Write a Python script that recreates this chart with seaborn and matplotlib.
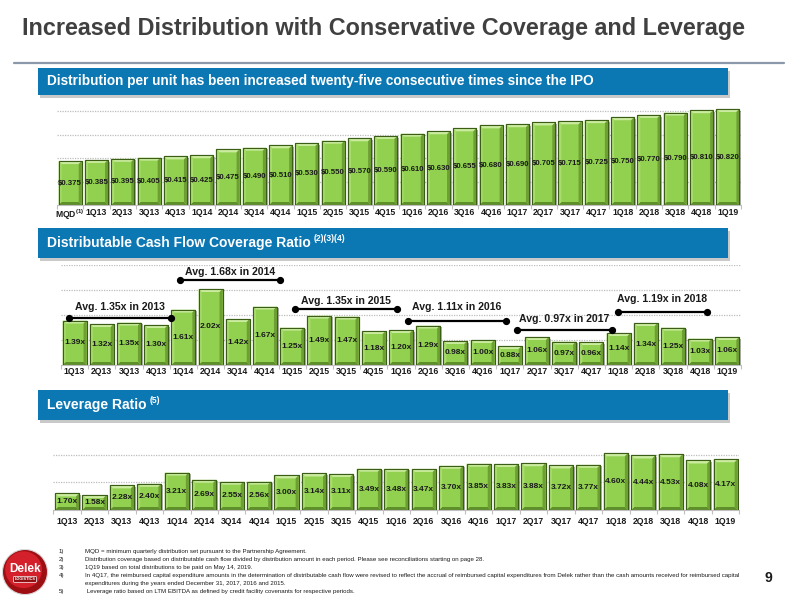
import numpy as np
import matplotlib
matplotlib.use("Agg")
import matplotlib.pyplot as plt
import matplotlib.patheffects as pe
from matplotlib.patches import Rectangle, Circle, Polygon
import seaborn as sns

# data
dist_labels = ["MQD$^{(1)}$", "1Q13", "2Q13", "3Q13", "4Q13", "1Q14", "2Q14", "3Q14", "4Q14",
               "1Q15", "2Q15", "3Q15", "4Q15", "1Q16", "2Q16", "3Q16", "4Q16",
               "1Q17", "2Q17", "3Q17", "4Q17", "1Q18", "2Q18", "3Q18", "4Q18", "1Q19"]
dist_values = [0.375, 0.385, 0.395, 0.405, 0.415, 0.425, 0.475, 0.490, 0.510, 0.530, 0.550,
               0.570, 0.590, 0.610, 0.630, 0.655, 0.680, 0.690, 0.705, 0.715, 0.725, 0.750,
               0.770, 0.790, 0.810, 0.820]

quarters = ["1Q13", "2Q13", "3Q13", "4Q13", "1Q14", "2Q14", "3Q14", "4Q14",
            "1Q15", "2Q15", "3Q15", "4Q15", "1Q16", "2Q16", "3Q16", "4Q16",
            "1Q17", "2Q17", "3Q17", "4Q17", "1Q18", "2Q18", "3Q18", "4Q18", "1Q19"]
coverage = [1.39, 1.32, 1.35, 1.30, 1.61, 2.02, 1.42, 1.67, 1.25, 1.49, 1.47, 1.18, 1.20,
            1.29, 0.98, 1.00, 0.88, 1.06, 0.97, 0.96, 1.14, 1.34, 1.25, 1.03, 1.06]
leverage = [1.70, 1.58, 2.28, 2.40, 3.21, 2.69, 2.55, 2.56, 3.00, 3.14, 3.11, 3.49, 3.48,
            3.47, 3.70, 3.85, 3.83, 3.88, 3.72, 3.77, 4.60, 4.44, 4.53, 4.08, 4.17]

avg_text = ["Avg. 1.35x in 2013", "Avg. 1.68x in 2014", "Avg. 1.35x in 2015",
            "Avg. 1.11x in 2016", "Avg. 0.97x in 2017", "Avg. 1.19x in 2018"]
# bracket placement (x start, x end, line height, text height)
avg_pos = [(-0.2, 3.55, 1.44, 1.66), (3.88, 7.55, 2.20, 2.36), (8.1, 11.86, 1.62, 1.78),
           (12.26, 15.86, 1.38, 1.66), (16.26, 19.76, 1.20, 1.42), (19.98, 23.25, 1.56, 1.82)]

footnotes = [
    ("1)", "MQD = minimum quarterly distribution set pursuant to the Partnership Agreement."),
    ("2)", "Distribution coverage based on distributable cash flow divided by distribution amount in each period. Please see reconciliations starting on page 28."),
    ("3)", "1Q19 based on total distributions to be paid on May 14, 2019."),
    ("4)", "In 4Q17, the reimbursed capital expenditure amounts in the determination of distributable cash flow were revised to reflect the accrual of reimbursed capital expenditures from Delek rather than the cash amounts received for reimbursed capital"),
    ("", "expenditures during the years ended December 31, 2017, 2016 and 2015."),
    ("5)", " Leverage ratio based on LTM EBITDA as defined by credit facility covenants for respective periods."),
]

sns.set_theme(style="white")
plt.rcParams['font.family'] = ['Liberation Sans', 'DejaVu Sans']
plt.rcParams['mathtext.default'] = 'regular'

GREEN = "#92D050"
EDGE = "#3A5E15"
BLUE = "#0B77B3"
TXT = "#1A1A1A"

fig = plt.figure(figsize=(8, 6), dpi=100)


def px_axes(x0, y0, x1, y1):
    return fig.add_axes([x0 / 800, 1 - y1 / 600, (x1 - x0) / 800, (y1 - y0) / 600])


def fx(x):
    return x / 800


def fy(y):
    return 1 - y / 600


# title + separator
fig.text(fx(22), fy(29), "Increased Distribution with Conservative Coverage and Leverage",
         fontsize=16.8, fontweight="bold", color="#404040", va="center", ha="left")
fig.add_artist(plt.Line2D([fx(14), fx(784)], [fy(63), fy(63)], color="#8A98AA", lw=1.6))


def banner(y0, y1, text, sup=None, size=9.5):
    fig.add_artist(Rectangle((fx(40), fy(y1 + 3)), fx(690), (y1 - y0) / 600,
                             facecolor="#C9C9C9", edgecolor="none"))
    fig.add_artist(Rectangle((fx(38), fy(y1)), fx(690), (y1 - y0) / 600,
                             facecolor=BLUE, edgecolor="none"))
    t = fig.text(fx(47), fy((y0 + y1) / 2), text, color="white", fontsize=size,
                 fontweight="bold", va="center", ha="left")
    if sup:
        fig.canvas.draw()
        bb = t.get_window_extent().transformed(fig.transFigure.inverted())
        fig.text(bb.x1 + fx(3), bb.y1 + 0.003, sup, color="white", fontsize=size * 0.62,
                 fontweight="bold", va="top", ha="left")


banner(68, 95, "Distribution per unit has been increased twenty-five consecutive times since the IPO", size=9.8)
banner(228, 258, "Distributable Cash Flow Coverage Ratio", "(2)(3)(4)", size=10)
banner(390, 420, "Leverage Ratio", "(5)", size=10)


def style_axes(ax, n, yticks, pad):
    ax.set_xlim(-0.5, n - 0.5)
    ax.set_yticks(yticks)
    ax.set_yticklabels([])
    ax.yaxis.grid(True, linestyle=(0, (1, 1)), color="#BDBDBD", lw=0.9)
    ax.set_axisbelow(True)
    for s in ["top", "left", "right"]:
        ax.spines[s].set_visible(False)
    ax.spines["bottom"].set_color("#BFBFBF")
    ax.spines["bottom"].set_linewidth(0.8)
    ax.set_xticks(np.arange(-0.5, n), minor=True)
    ax.tick_params(axis="x", which="minor", length=3, color="#BFBFBF", width=0.8, bottom=True)
    ax.tick_params(axis="x", which="major", length=0, pad=pad, labelsize=6.2, labelcolor=TXT)
    ax.tick_params(axis="y", length=0)
    for lbl in ax.get_xticklabels():
        lbl.set_fontweight("bold")
    ax.set_xlabel("")
    ax.set_ylabel("")


def draw_bars(ax, labels, values, fmt, base, size):
    sns.barplot(x=labels, y=values, ax=ax, color=GREEN, saturation=1, width=0.88,
                edgecolor=EDGE, linewidth=0.8)
    for p in ax.patches:
        p.set_path_effects([pe.SimplePatchShadow(offset=(1.2, -1.2), shadow_rgbFace="#7F7F7F",
                                                 alpha=0.6), pe.Normal()])
    for i, v in enumerate(values):
        ax.text(i, (base + v) / 2, fmt(v), ha="center", va="center", fontsize=size,
                fontweight="bold", color=TXT, zorder=5)


def bevel(ax, base, d=3.0):
    # soft 3D look: light top, dark bottom, shaded sides
    pos = ax.get_position()
    xl, yl = ax.get_xlim(), ax.get_ylim()
    dx = d * (xl[1] - xl[0]) / (pos.width * 800)
    dy = d * (yl[1] - yl[0]) / (pos.height * 600)
    for p in list(ax.patches):
        x0, w = p.get_x(), p.get_width()
        y0 = max(p.get_y(), base)
        y1 = p.get_y() + p.get_height()
        x1 = x0 + w
        faces = [
            ([(x0, y1), (x1, y1), (x1 - dx, y1 - dy), (x0 + dx, y1 - dy)], "#CBEC9F"),
            ([(x0, y0), (x1, y0), (x1 - dx, y0 + dy), (x0 + dx, y0 + dy)], "#5F8F2A"),
            ([(x0, y0), (x0 + dx, y0 + dy), (x0 + dx, y1 - dy), (x0, y1)], "#A8DC6C"),
            ([(x1, y0), (x1 - dx, y0 + dy), (x1 - dx, y1 - dy), (x1, y1)], "#6E9F35"),
        ]
        for pts, c in faces:
            ax.add_patch(Polygon(pts, closed=True, facecolor=c, edgecolor="none", zorder=2.5))
        ax.add_patch(Rectangle((x0, y0), w, y1 - y0, facecolor="none", edgecolor=EDGE,
                               lw=0.8, zorder=2.6))


# distribution per unit
ax1 = px_axes(57, 105.5, 741, 205)
draw_bars(ax1, dist_labels, dist_values, lambda v: f"${v:.3f}", 0, 5.6)
ax1.set_ylim(0, 0.85)
style_axes(ax1, len(dist_values), [0.2, 0.4, 0.6, 0.8], 2)
bevel(ax1, 0)

# coverage ratio
ax2 = px_axes(61, 265, 741, 365)
draw_bars(ax2, quarters, coverage, lambda v: f"{v:.2f}x", 0.5, 6.0)
ax2.set_ylim(0.5, 2.5)
style_axes(ax2, len(coverage), [1.0, 1.5, 2.0, 2.5], 1.5)
bevel(ax2, 0.5)
for txt, (x0, x1, yl, yt) in zip(avg_text, avg_pos):
    ax2.plot([x0, x1], [yl, yl], color="black", lw=1.6, marker="o", ms=4.2,
             clip_on=False, zorder=6)
    ax2.text((x0 + x1) / 2, yt, txt, ha="center", va="center", fontsize=7.6,
             fontweight="bold", color=TXT, clip_on=False, zorder=6)

# leverage ratio
ax3 = px_axes(53.3, 427, 739.3, 510)
draw_bars(ax3, quarters, leverage, lambda v: f"{v:.2f}x", 0.5, 6.0)
ax3.set_ylim(0.5, 6.5)
style_axes(ax3, len(leverage), [2.5, 4.5], 5)
bevel(ax3, 0.5)

# footnotes
ys = [552, 559.5, 567.5, 576, 583.5, 592]
for (num, txt), y in zip(footnotes, ys):
    if num:
        fig.text(fx(59), fy(y), num, fontsize=4.45, color=TXT, va="center")
    fig.text(fx(85), fy(y), txt, fontsize=4.45, color=TXT, va="center")

fig.text(fx(768), fy(578), "9", fontsize=10, fontweight="bold", color=TXT, ha="center", va="center")

# logo
lax = px_axes(2, 548, 48, 596)
lax.set_xlim(0, 1)
lax.set_ylim(0, 1)
lax.set_aspect("equal")
lax.axis("off")
lax.add_patch(Circle((0.5, 0.5), 0.49, facecolor="#9E0F14", edgecolor="#D9D9D9", lw=0.8))
lax.add_patch(Circle((0.47, 0.55), 0.40, facecolor="#D3202A", edgecolor="none"))
lax.text(0.5, 0.56, "Delek", color="white", fontsize=8.5, fontweight="bold", ha="center", va="center")
lax.text(0.5, 0.34, "LOGISTICS", color="white", fontsize=2.8, fontweight="bold", ha="center", va="center",
         bbox=dict(boxstyle="round,pad=0.25", facecolor="#8E0E12", edgecolor="white", lw=0.5))

fig.savefig("out.png", dpi=100)
